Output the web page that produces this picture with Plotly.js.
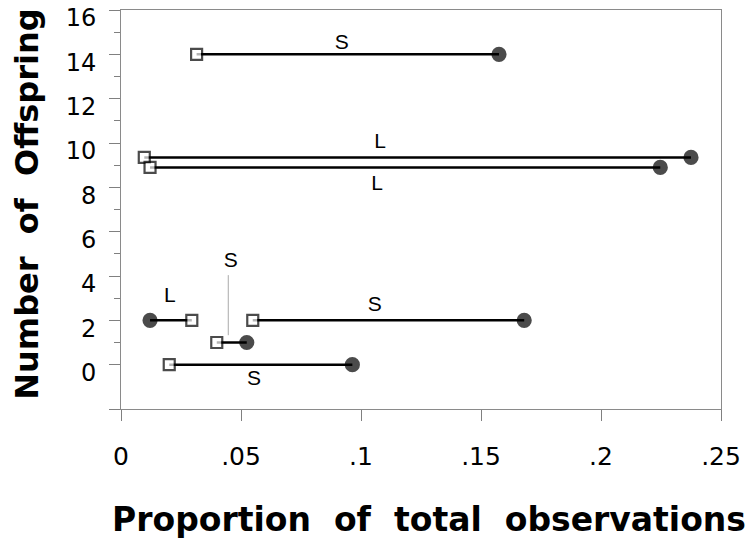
<!DOCTYPE html>
<html>
<head>
<meta charset="utf-8">
<script src="https://cdn.plot.ly/plotly-3.0.1.min.js"></script>
<style>
  body { margin: 0; background: #fff; }
  #chart { width: 756px; height: 548px; }
</style>
</head>
<body>
<div id="chart"></div>
<script>
// one row per segment: open square at one end, filled circle at the other
const rowY    = [14, 9.35, 8.9, 2, 2, 1, 0];
const squareX = [0.0315, 0.0097, 0.0121, 0.0295, 0.0549, 0.0399, 0.0201];
const circleX = [0.1575, 0.2375, 0.2247, 0.0121, 0.168, 0.0524, 0.0964];

// S / L labels
const labelText = ['S', 'L', 'L', 'L', 'S', 'S', 'S'];
const labelX    = [0.092, 0.108, 0.1067, 0.0204, 0.1057, 0.0457, 0.0554];
const labelY    = [14.46, 10.0, 8.13, 3.05, 2.65, 4.64, -0.70];

// thin leader line from the upper S to the short segment at 1
const leaderX = [0.0447, 0.0447];
const leaderY = [4.04, 1.33];

const yTicks = [-2, 0, 2, 4, 6, 8, 10, 12, 14, 16];
const yTickText = ['', '0', '2', '4', '6', '8', '10', '12', '14', '16'];
const yMinor = [1, 3, 5, 7, 9, 11, 13, 15];
const xTicks = [0, 0.05, 0.1, 0.15, 0.2, 0.25];
const xTickText = ['0', '.05', '.1', '.15', '.2', '.25'];

const xTitle = 'Proportion\u00a0 of\u00a0 total\u00a0 observations';
const yTitle = 'Number\u00a0 of\u00a0 Offspring';

const tickFamily = 'DejaVu Sans, sans-serif';
const titleFont = {size: 33, family: 'DejaVu Sans, sans-serif', weight: 'bold', color: '#000'};

let data = [];

data.push({
  x: leaderX, y: leaderY,
  mode: 'lines', type: 'scatter',
  line: {color: '#aaaaaa', width: 1},
  hoverinfo: 'skip', showlegend: false
});

for (let i = 0; i < rowY.length; i++) {
  data.push({
    x: [squareX[i], circleX[i]],
    y: [rowY[i], rowY[i]],
    mode: 'lines+markers', type: 'scatter',
    line: {color: '#000000', width: 2.5},
    marker: {
      symbol: ['square', 'circle'],
      size: [11, 13],
      color: ['#ffffff', '#000000'],
      line: {color: '#000000', width: 2.2}
    },
    showlegend: false
  });
}

data.push({
  x: labelX, y: labelY, text: labelText,
  mode: 'text', type: 'scatter',
  textfont: {family: 'Liberation Sans, Arial, sans-serif', size: 21, color: '#000'},
  hoverinfo: 'skip', showlegend: false
});

let layout = {
  width: 756,
  height: 548,
  margin: {l: 121, r: 35, t: 10, b: 139},
  paper_bgcolor: '#ffffff',
  plot_bgcolor: '#ffffff',
  font: {family: 'DejaVu Sans, sans-serif', color: '#000'},
  xaxis: {
    range: [0, 0.25],
    tickvals: xTicks,
    ticktext: xTickText,
    ticks: 'outside',
    ticklen: 11,
    tickcolor: '#808080',
    ticklabelstandoff: 14,
    ticklabeloverflow: 'allow',
    tickfont: {size: 25, family: tickFamily},
    showgrid: false,
    zeroline: false,
    showline: true,
    linecolor: '#8a8a8a',
    linewidth: 1,
    mirror: true
  },
  yaxis: {
    range: [-2, 16],
    tickvals: yTicks,
    ticktext: yTickText,
    ticks: 'outside',
    ticklen: 11,
    tickcolor: '#808080',
    ticklabelstandoff: 8,
    ticklabelshift: 8,
    ticklabeloverflow: 'allow',
    tickfont: {size: 24, family: tickFamily},
    minor: {tickvals: yMinor, ticks: 'outside', ticklen: 6, tickcolor: '#808080'},
    showgrid: false,
    zeroline: false,
    showline: true,
    linecolor: '#8a8a8a',
    linewidth: 1,
    mirror: true
  },
  annotations: [
    {
      text: xTitle, xref: 'paper', yref: 'paper',
      x: 0.513, y: -0.278, xanchor: 'center', yanchor: 'middle',
      showarrow: false, font: titleFont
    },
    {
      text: yTitle, xref: 'paper', yref: 'paper',
      x: -0.157, y: 0.514, xanchor: 'center', yanchor: 'middle',
      textangle: -90, showarrow: false, font: {...titleFont, size: 32}
    }
  ]
};

Plotly.newPlot('chart', data, layout, {displayModeBar: false, staticPlot: true});
</script>
</body>
</html>
